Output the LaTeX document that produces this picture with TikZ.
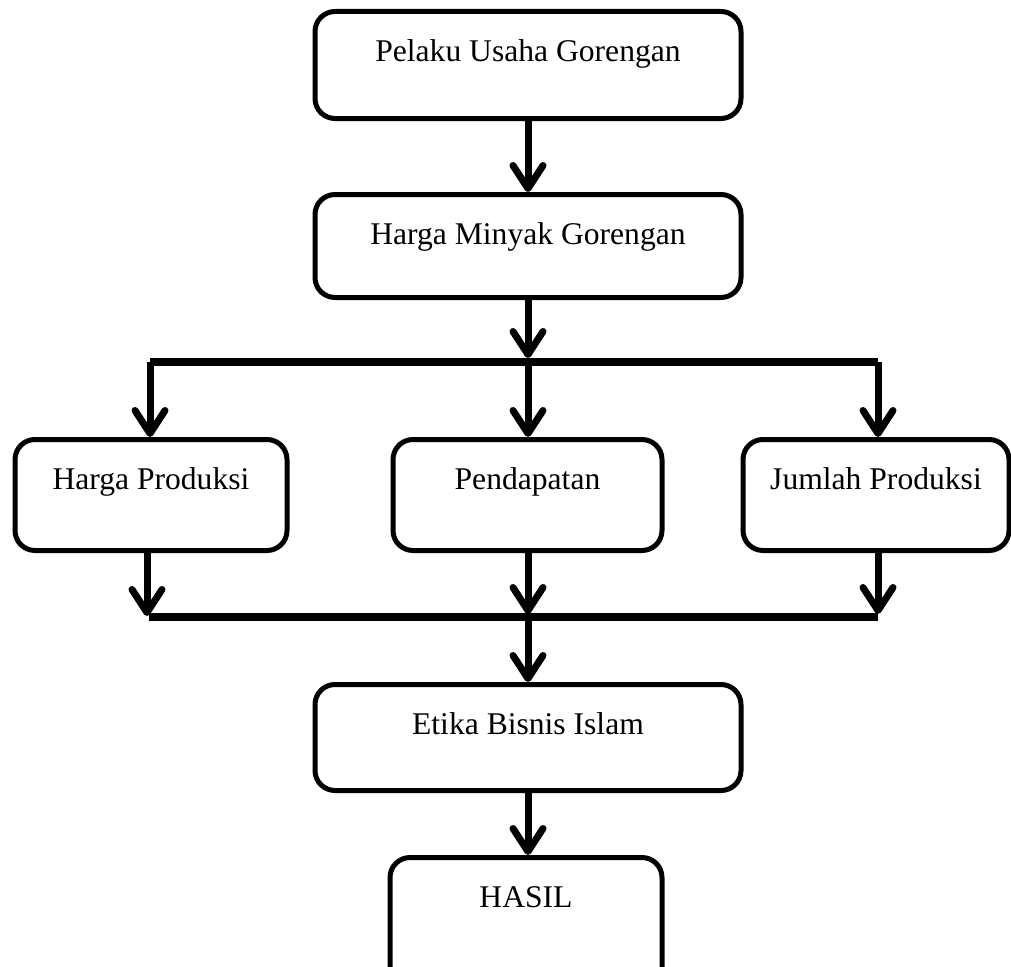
\documentclass[tikz,border=0pt]{standalone}
\usepackage{fontspec}
\setmainfont{Liberation Serif}
\usetikzlibrary{arrows.meta}
\begin{document}
\begin{tikzpicture}[x=1pt,y=-1pt,
  box/.style={draw, line width=5pt, rounded corners=20pt, inner sep=0pt,
    font=\fontsize{31.6}{38}\selectfont, text height=50pt, anchor=north},
  arr/.style={line width=7pt, -{Straight Barb[length=23pt,width=30pt,round]}},
  bus/.style={line width=7.5pt}]
\useasboundingbox (0,0) rectangle (1011,966);
\clip (0,0) rectangle (1011,966);
% boxes
\node[box, minimum width=426pt, text depth=57pt] (b1) at (528,9) {Pelaku Usaha Gorengan};
\node[box, minimum width=426pt, text depth=53pt] (b2) at (528,192) {Harga Minyak Gorengan};
\node[box, minimum width=272pt, text depth=61pt] (hp) at (151,437) {Harga Produksi};
\node[box, minimum width=269pt, text depth=61pt] (pd) at (527.5,437) {Pendapatan};
\node[box, minimum width=266pt, text depth=61pt] (jp) at (876,437) {Jumlah Produksi};
\node[box, minimum width=426pt, text depth=56pt] (et) at (528,682) {Etika Bisnis Islam};
\node[box, minimum width=272pt, text depth=80pt] (ha) at (526,855) {HASIL};
% junctions
\coordinate (jt) at (528,362);
\coordinate (jtl) at (150,362);
\coordinate (jtr) at (878,362);
\coordinate (jb) at (528,617);
\coordinate (jbl) at (147,617);
\coordinate (jbr) at (878,617);
% connectors
\draw[arr] (b1) -- (b2);
\draw[arr, shorten >=4pt] (b2) -- (jt);
\draw[bus] (jtl) -- (jtr);
\draw[arr] (jtl) -- (jtl |- hp.north);
\draw[arr] (jt) -- (jt |- pd.north);
\draw[arr] (jtr) -- (jtr |- jp.north);
\draw[arr, shorten >=1pt] (jbl |- hp.south) -- (jbl);
\draw[arr, shorten >=3pt] (jb |- pd.south) -- (jb);
\draw[arr, shorten >=3pt] (jbr |- jp.south) -- (jbr);
\draw[bus] ([xshift=2pt]jbl) -- (jbr);
\draw[arr] (jb) -- (jb |- et.north);
\draw[arr] (et.south -| jb) -- (jb |- ha.north);
\end{tikzpicture}
\end{document}
